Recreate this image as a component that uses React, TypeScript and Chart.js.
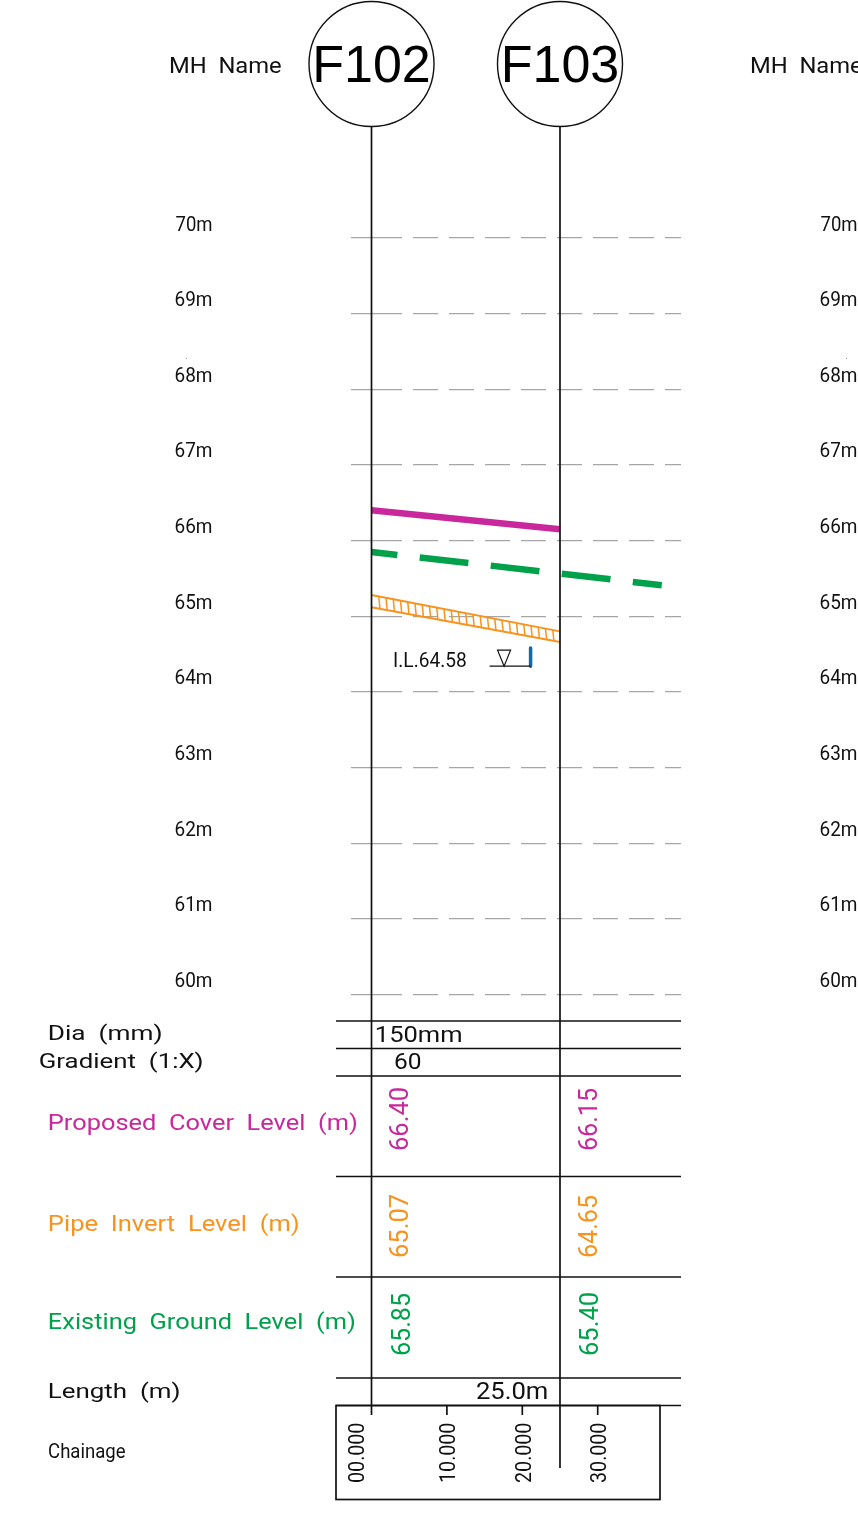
import React, { useEffect, useRef } from "react";
import { Chart, registerables } from "chart.js";

Chart.register(...registerables);

// ---- data ----
const manholeNames = ["F102", "F103"];
const manholeChainage = [0, 25];
const levelTicks = [70, 69, 68, 67, 66, 65, 64, 63, 62, 61, 60];
const chainageTicks = [0, 10, 20, 30];
const chainageLabels = ["00.000", "10.000", "20.000", "30.000"];

const coverProfile = [66.4, 66.15];
const groundChainage = [0, 38.5];
const groundProfile = [65.85, 65.41];
const pipeTop = [65.28, 64.8];
const pipeBottom = [65.12, 64.66];
const invertMarkChainage = [21.1, 21.1];
const invertMarkLevel = [64.58, 64.34];

const coverLabels = ["66.40", "66.15"];
const invertLabels = ["65.07", "64.65"];
const groundLabels = ["65.85", "65.40"];
const diaLabel = "150mm";
const gradientLabel = "60";
const lengthLabel = "25.0m";
const invertLabel = "I.L.64.58";

// ---- styling ----
const PINK = "#c8289c";
const ORANGE = "#f7931e";
const GREEN = "#00a14b";
const BLUE = "#0b6cae";
const INK = "#111111";
const W = 858;
const H = 1518;
const FONT = "Roboto, 'Liberation Sans', sans-serif";

type Ctx = CanvasRenderingContext2D;

function fit(ctx: Ctx, str: string, x0: number, x1: number, base: number, size: number, color: string) {
  ctx.save();
  ctx.font = `400 ${size}px ${FONT}`;
  ctx.fillStyle = color;
  ctx.textBaseline = "alphabetic";
  ctx.textAlign = "left";
  const m = ctx.measureText(str);
  const sx = (x1 - x0) / (m.actualBoundingBoxRight + m.actualBoundingBoxLeft);
  ctx.translate(x0 + m.actualBoundingBoxLeft * sx, base);
  ctx.scale(sx, 1);
  ctx.fillText(str, 0, 0);
  ctx.restore();
}

function fitUp(ctx: Ctx, str: string, base: number, yBottom: number, yTop: number, size: number, color: string) {
  ctx.save();
  ctx.translate(base, yBottom);
  ctx.rotate(-Math.PI / 2);
  fit(ctx, str, 0, yBottom - yTop, 0, size, color);
  ctx.restore();
}

function seg(ctx: Ctx, x0: number, y0: number, x1: number, y1: number, color = INK, w = 1.7) {
  ctx.strokeStyle = color;
  ctx.lineWidth = w;
  ctx.beginPath();
  ctx.moveTo(x0, y0);
  ctx.lineTo(x1, y1);
  ctx.stroke();
}

const sheetPlugin = {
  id: "sheet",
  afterDatasetsDraw(chart: any) {
    const ctx: Ctx = chart.ctx;
    const xs = chart.scales.x;
    const ys = chart.scales.y;
    const mx = manholeChainage.map((c) => xs.getPixelForValue(c));
    ctx.save();

    // pipe hatching
    const n = 26;
    ctx.strokeStyle = ORANGE;
    ctx.lineWidth = 1.5;
    const xa = mx[0];
    const xb = mx[1];
    const topA = ys.getPixelForValue(pipeTop[0]);
    const topB = ys.getPixelForValue(pipeTop[1]);
    const botA = ys.getPixelForValue(pipeBottom[0]);
    const botB = ys.getPixelForValue(pipeBottom[1]);
    for (let i = 1; i < n; i++) {
      const t = i / n;
      const x = xa + (xb - xa) * t;
      ctx.beginPath();
      ctx.moveTo(x, topA + (topB - topA) * t);
      ctx.lineTo(x + 1.2, botA + (botB - botA) * t + 0.2);
      ctx.stroke();
    }

    // manhole stems and circles
    seg(ctx, mx[0], 127, mx[0], 1415);
    seg(ctx, mx[1], 127, mx[1], 1468);
    manholeNames.forEach((name, i) => {
      ctx.lineWidth = 1.4;
      ctx.strokeStyle = INK;
      ctx.beginPath();
      ctx.arc(mx[i], 64, 62.5, 0, Math.PI * 2);
      ctx.stroke();
      ctx.font = `52px 'Liberation Sans', Arial, sans-serif`;
      ctx.fillStyle = "#000";
      ctx.textAlign = "center";
      ctx.textBaseline = "alphabetic";
      ctx.fillText(name, mx[i], 82);
    });

    fit(ctx, "MH  Name", 170, 281, 73, 22, INK);
    fit(ctx, "MH  Name", 751, 862, 73, 22, INK);

    // level labels
    levelTicks.forEach((v) => {
      const y = ys.getPixelForValue(v) - 7.5;
      fit(ctx, `${v}m`, 175.5, 212, y, 20, INK);
      fit(ctx, `${v}m`, 820.5, 857, y, 20, INK);
    });

    // invert marker
    const mkX = xs.getPixelForValue(invertMarkChainage[0]);
    const mkBase = ys.getPixelForValue(invertMarkLevel[1]);
    seg(ctx, mkX - 41, mkBase, mkX, mkBase, INK, 1.2);
    ctx.strokeStyle = INK;
    ctx.lineWidth = 1.2;
    ctx.beginPath();
    ctx.moveTo(mkX - 33, mkBase - 16);
    ctx.lineTo(mkX - 20, mkBase - 16);
    ctx.lineTo(mkX - 26.5, mkBase);
    ctx.closePath();
    ctx.stroke();
    fit(ctx, invertLabel, 394, 466, 667, 21, INK);

    // table rules
    [1021, 1048.5, 1076, 1176.5, 1277, 1378, 1405.5].forEach((y) => seg(ctx, 336, y, 681, y));
    ctx.lineWidth = 1.7;
    ctx.strokeStyle = INK;
    ctx.strokeRect(336, 1405.5, 324, 94);

    // row titles
    fit(ctx, "Dia  (mm)", 49, 161, 1040, 21, INK);
    fit(ctx, "Gradient  (1:X)", 40, 202, 1068, 21, INK);
    fit(ctx, "Proposed  Cover  Level  (m)", 49, 357, 1130, 22, PINK);
    fit(ctx, "Pipe  Invert  Level  (m)", 49, 299, 1231, 22, ORANGE);
    fit(ctx, "Existing  Ground  Level  (m)", 49, 355, 1329, 22, GREEN);
    fit(ctx, "Length  (m)", 49, 179, 1398, 21, INK);
    fit(ctx, "Chainage", 49, 125, 1458, 20, INK);

    // table values
    fit(ctx, diaLabel, 376, 461, 1042, 22, INK);
    fit(ctx, gradientLabel, 395, 421, 1069, 22, INK);
    fit(ctx, lengthLabel, 477, 547, 1399, 23, INK);
    coverLabels.forEach((s, i) => fitUp(ctx, s, mx[i] + 36.5 + i, 1150, 1088, 25, PINK));
    invertLabels.forEach((s, i) => fitUp(ctx, s, mx[i] + 36 + i, 1257, 1195, 25, ORANGE));
    groundLabels.forEach((s, i) => fitUp(ctx, s, mx[i] + 38.5 - 0.5 * i, 1355, 1293, 25, GREEN));

    // chainage ruler
    chainageTicks.forEach((c, i) => {
      const x = xs.getPixelForValue(c);
      if (i > 0) seg(ctx, x, 1405.5, x, 1415);
      const base = i === 0 ? 364 : x + 8.5;
      fitUp(ctx, chainageLabels[i], base, 1482, 1423, 22, INK);
    });

    // stray specks on the sheet
    ctx.fillStyle = "#9a9a9a";
    ctx.fillRect(186, 358, 1, 1);
    ctx.fillRect(846, 358, 1, 1);

    ctx.restore();
  },
};

export default function App() {
  const ref = useRef<HTMLCanvasElement | null>(null);

  useEffect(() => {
    document.body.style.margin = "0";
    const toPts = (xv: number[], yv: number[]) => xv.map((x, i) => ({ x, y: yv[i] }));
    const gridDash = [51, 11, 25, 11, 25, 11, 25, 11, 25, 11, 25, 11, 25, 11, 25, 11, 16, 40];
    const chart = new Chart(ref.current as HTMLCanvasElement, {
      type: "scatter",
      data: {
        datasets: [
          {
            label: "Proposed Cover Level",
            data: toPts(manholeChainage, coverProfile),
            showLine: true,
            borderColor: PINK,
            borderWidth: 6.5,
            pointRadius: 0,
            clip: false,
          },
          {
            label: "Existing Ground Level",
            data: toPts(groundChainage, groundProfile),
            showLine: true,
            borderColor: GREEN,
            borderWidth: 6.5,
            borderDash: [49, 22.5],
            borderDashOffset: 23,
            pointRadius: 0,
            clip: false,
          },
          {
            label: "Pipe top",
            data: toPts(manholeChainage, pipeTop),
            showLine: true,
            borderColor: ORANGE,
            borderWidth: 2,
            pointRadius: 0,
            clip: false,
          },
          {
            label: "Pipe invert",
            data: toPts(manholeChainage, pipeBottom),
            showLine: true,
            borderColor: ORANGE,
            borderWidth: 2,
            pointRadius: 0,
            clip: false,
          },
          {
            label: "Invert mark",
            data: toPts(invertMarkChainage, invertMarkLevel),
            showLine: true,
            borderColor: BLUE,
            borderWidth: 3.5,
            borderCapStyle: "round",
            pointRadius: 0,
            clip: false,
          },
        ],
      } as any,
      options: {
        responsive: false,
        animation: false,
        devicePixelRatio: 1,
        layout: { padding: { left: 351, right: W - 681, top: 238, bottom: H - 994.5 } },
        plugins: { legend: { display: false }, tooltip: { enabled: false } },
        scales: {
          x: { type: "linear", display: false, min: -2.72, max: 41.05 },
          y: {
            type: "linear",
            min: 60,
            max: 70,
            afterFit: (s: any) => {
              s.width = 0;
            },
            ticks: { display: false, stepSize: 1 },
            grid: { color: "#a6a6a6", lineWidth: 1.3, drawTicks: false },
            border: { display: false, dash: gridDash },
          },
        },
      } as any,
      plugins: [sheetPlugin],
    });
    return () => chart.destroy();
  }, []);

  return (
    <canvas
      ref={ref}
      width={W}
      height={H}
      style={{ position: "absolute", left: 0, top: 0, width: W, height: H, display: "block", background: "#fff" }}
    />
  );
}
